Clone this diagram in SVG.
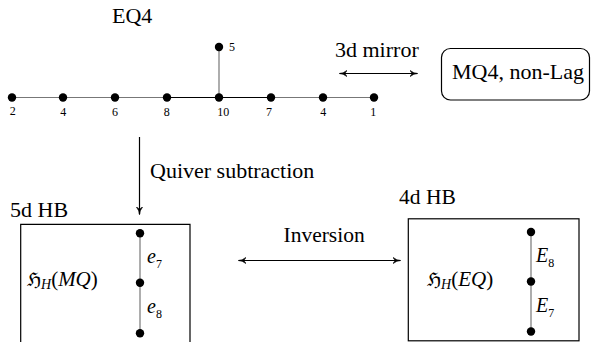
<svg xmlns="http://www.w3.org/2000/svg" width="591" height="342" viewBox="0 0 591 342">
<defs>
<marker id="ah" viewBox="0 0 10 10" refX="9" refY="5" markerWidth="8" markerHeight="8" markerUnits="userSpaceOnUse" orient="auto-start-reverse">
<path d="M0,1 Q5,5 10,5 Q5,5 0,9 L3,5 Z" fill="#000" stroke="#000" stroke-width="0.8"/>
</marker>
</defs>

<g id="eq4">
<text font-family="Liberation Serif" font-size="22" x="112" y="23">EQ4</text>
<g stroke="#777" stroke-width="1.2">
<line x1="12" y1="97.5" x2="167" y2="97.5"/>
<line x1="271" y1="97.5" x2="374" y2="97.5"/>
<line x1="219" y1="47" x2="219" y2="97.5"/>
</g>
<line stroke="#000" stroke-width="1" x1="167" y1="97.5" x2="271" y2="97.5"/>
<g fill="#000">
<circle cx="12" cy="97.5" r="4.2"/>
<circle cx="63" cy="97.5" r="4.2"/>
<circle cx="115" cy="97.5" r="4.2"/>
<circle cx="167" cy="97.5" r="4.2"/>
<circle cx="219" cy="97.5" r="4.2"/>
<circle cx="271" cy="97.5" r="4.2"/>
<circle cx="323" cy="97.5" r="4.2"/>
<circle cx="374" cy="97.5" r="4.2"/>
<circle cx="219" cy="47" r="4.2"/>
</g>
<text font-family="Liberation Serif" font-size="12" x="229" y="51">5</text>
<text font-family="Liberation Serif" font-size="12" text-anchor="middle" x="12.7" y="115">2</text>
<text font-family="Liberation Serif" font-size="12" text-anchor="middle" x="63.3" y="116">4</text>
<text font-family="Liberation Serif" font-size="12" text-anchor="middle" x="115" y="116">6</text>
<text font-family="Liberation Serif" font-size="12" text-anchor="middle" x="166.7" y="116">8</text>
<text font-family="Liberation Serif" font-size="12" text-anchor="middle" x="223.3" y="116">10</text>
<text font-family="Liberation Serif" font-size="12" text-anchor="middle" x="269" y="116">7</text>
<text font-family="Liberation Serif" font-size="12" text-anchor="middle" x="323.3" y="116">4</text>
<text font-family="Liberation Serif" font-size="12" text-anchor="middle" x="373.3" y="116">1</text>
</g>

<g id="mq4">
<rect fill="none" stroke="#000" stroke-width="1.2" x="441.5" y="48.5" width="148" height="51.5" rx="9" ry="9"/>
<text font-family="Liberation Serif" font-size="22" x="452" y="78.5">MQ4, non-Lag</text>
</g>

<g id="hb5">
<text font-family="Liberation Serif" font-size="22" x="10" y="217">5d HB</text>
<path fill="none" stroke="#000" stroke-width="1.2" d="M20.7,345 V224.3 H190 V345"/>
<text font-family="Liberation Serif" font-size="21" x="27" y="286"><tspan font-size="19">ℌ</tspan><tspan font-style="italic" font-size="14" dy="3">H</tspan><tspan dy="-3">(</tspan><tspan font-style="italic">MQ</tspan><tspan>)</tspan></text>
<line stroke="#777" stroke-width="1.2" x1="140" y1="233.3" x2="140" y2="333.3"/>
<g fill="#000">
<circle cx="140" cy="233.3" r="4.2"/>
<circle cx="140" cy="282.7" r="4.2"/>
<circle cx="140" cy="333.3" r="4.2"/>
</g>
<text font-family="Liberation Serif" font-size="20" x="147" y="263"><tspan font-style="italic">e</tspan><tspan font-size="12" dy="5">7</tspan></text>
<text font-family="Liberation Serif" font-size="20" x="147" y="313"><tspan font-style="italic">e</tspan><tspan font-size="12" dy="5">8</tspan></text>
</g>

<g id="hb4">
<text font-family="Liberation Serif" font-size="21.5" x="399" y="203.5">4d HB</text>
<rect fill="none" stroke="#000" stroke-width="1.2" x="408.3" y="218.8" width="170.7" height="122"/>
<text font-family="Liberation Serif" font-size="21" x="427" y="286"><tspan font-size="19">ℌ</tspan><tspan font-style="italic" font-size="14" dy="3">H</tspan><tspan dy="-3">(</tspan><tspan font-style="italic">EQ</tspan><tspan>)</tspan></text>
<line stroke="#777" stroke-width="1.2" x1="531" y1="232" x2="531" y2="331.5"/>
<g fill="#000">
<circle cx="531" cy="232" r="4.2"/>
<circle cx="531" cy="281.5" r="4.2"/>
<circle cx="531" cy="331.5" r="4.2"/>
</g>
<text font-family="Liberation Serif" font-size="20" x="536" y="262"><tspan font-style="italic">E</tspan><tspan font-size="12" dy="5">8</tspan></text>
<text font-family="Liberation Serif" font-size="20" x="536" y="312"><tspan font-style="italic">E</tspan><tspan font-size="12" dy="5">7</tspan></text>
</g>

<g id="connectors" stroke="#000" stroke-width="1.2" fill="none">
<line x1="340" y1="73.5" x2="417" y2="73.5" marker-start="url(#ah)" marker-end="url(#ah)"/>
<line x1="139.5" y1="137" x2="139.5" y2="214" marker-end="url(#ah)"/>
<line x1="239" y1="260.5" x2="400" y2="260.5" marker-start="url(#ah)" marker-end="url(#ah)"/>
</g>
<g id="connector-labels">
<text font-family="Liberation Serif" font-size="22" x="335" y="57">3d mirror</text>
<text font-family="Liberation Serif" font-size="22" x="150" y="177.5">Quiver subtraction</text>
<text font-family="Liberation Serif" font-size="21.5" x="283.5" y="242">Inversion</text>
</g>
</svg>
